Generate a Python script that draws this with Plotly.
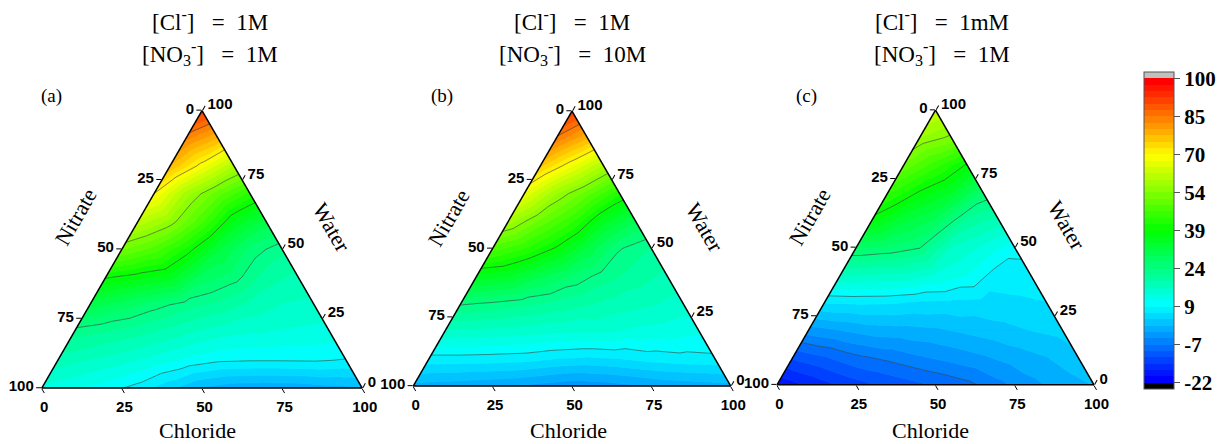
import plotly.graph_objects as go

# ---------------- data ----------------
# Node values on a ternary grid: row i -> Water = water_pct[i] %,
# entry j -> Chloride = j*10 %, Nitrate = 100 - Water - Chloride.
water_pct = [0, 10, 20, 30, 40, 50, 60, 70, 80, 90, 100]
chloride_step = 10

panel_a = [
    [13, 11.5, 9.7, 7.5, 4, 0.5, -0.8, -1, -0.8, 0, 0.5],
    [17.5, 16, 14.5, 12.5, 10.5, 9, 8.7, 8.7, 8.8, 8.3],
    [22.4, 21, 19.5, 17.5, 15.5, 14, 13.5, 13, 12.5],
    [30.2, 27.8, 25, 22.5, 20.5, 18, 16, 15.5],
    [39.5, 37.5, 35.4, 28, 25, 20, 18],
    [52, 48, 41, 32, 25.5, 22],
    [61, 56, 47, 36, 30.5],
    [69.5, 58, 50, 43],
    [77, 68, 59],
    [83, 77],
    [92],
]
panel_b = [
    [0, -0.5, -1, -1.5, -2.5, -3.5, -3, -2, -1, -0.5, 0],
    [7.5, 7.5, 7.3, 7, 6, 5.5, 6, 7, 7.5, 7.8],
    [15.7, 15.5, 15, 14.5, 14, 14, 13, 12.5, 11.6],
    [24.2, 23.3, 22, 20.5, 19, 17.5, 16.5, 15],
    [35.6, 34.2, 29.7, 26, 22.5, 20, 18],
    [47.8, 44, 38.5, 31, 24, 21],
    [58.2, 51, 44.6, 35, 29.3],
    [66.5, 57, 50, 42],
    [75, 67, 58.7],
    [84, 77],
    [92],
]
panel_c = [
    [-19, -16.5, -14, -12, -10.5, -9, -7.5, -5, -2.5, -0.5, 1],
    [-11.4, -9.5, -7.3, -6, -4.5, -3.3, -2, -0.5, 0.8, 2.6],
    [-2.8, -1.6, -0.3, 0, 0.5, 1.5, 2.5, 3.5, 4.3],
    [6.1, 6.4, 6.3, 5.6, 5.4, 5.2, 5.5, 5.9],
    [16.2, 16, 15.4, 13.3, 11, 7, 7.2],
    [26.9, 25.9, 24, 16, 13, 9.5],
    [37.7, 32.2, 28.5, 20.7, 17.4],
    [44.6, 38.5, 34, 26],
    [51, 45, 38.5],
    [56.7, 53.5],
    [62],
]
panels = [panel_a, panel_b, panel_c]

SP = "\u00a0"
title_line1 = ["[Cl<sup>-</sup>]" + SP * 3 + "=" + SP * 2 + "1M",
               "[Cl<sup>-</sup>]" + SP * 3 + "=" + SP * 2 + "1M",
               "[Cl<sup>-</sup>]" + SP * 3 + "=" + SP * 2 + "1mM"]
title_line2 = ["[NO<sub>3</sub><sup>-</sup>]" + SP * 3 + "=" + SP * 2 + "1M",
               "[NO<sub>3</sub><sup>-</sup>]" + SP * 3 + "=" + SP * 2 + "10M",
               "[NO<sub>3</sub><sup>-</sup>]" + SP * 3 + "=" + SP * 2 + "1M"]
panel_tags = ["(a)", "(b)", "(c)"]
bottom_name, left_name, right_name = "Chloride", "Nitrate", "Water"

axis_tick_pos = [0, 25, 50, 75, 100]

level_min, level_max, n_bands = -22.0, 100.0, 48
cbar_labels = ["-22", "-7", "9", "24", "39", "54", "70", "85", "100"]

# ---------------- layout helpers ----------------
W, H = 1227, 444


def px(x):
    return x / W


def py(y):
    return 1 - y / H


# triangle bounding boxes (px): left, right, top, bottom
tri_boxes = [(41, 363, 110.5, 388), (413, 731, 111, 386), (777, 1094, 110, 385)]
title_x = [210, 572, 942]
tag_pos = [(51, 96), (442, 96), (806, 96)]
nitrate_pos = [(75, 217), (448, 218), (809, 217)]
water_pos = [(332, 227), (705, 227), (1067, 225)]
chloride_x = [197, 568, 930]

# ---------------- colours ----------------
stops = [(0.0, (0, 0, 255)), (0.25, (0, 255, 255)), (0.5, (0, 255, 0)),
         (0.75, (255, 255, 0)), (1.0, (255, 0, 0))]


def rainbow(t):
    for k in range(len(stops) - 1):
        t0, c0 = stops[k]
        t1, c1 = stops[k + 1]
        if t <= t1 + 1e-12:
            f = (t - t0) / (t1 - t0)
            r, g, b = [round(c0[m] + f * (c1[m] - c0[m])) for m in range(3)]
            return "rgb(%d,%d,%d)" % (r, g, b)
    return "rgb(255,0,0)"


step = (level_max - level_min) / n_bands
edges = [level_min + k * step for k in range(n_bands + 1)]
band_colors = [rainbow(k / (n_bands - 1)) for k in range(n_bands)]
under_color, over_color = "rgb(0,0,0)", "rgb(192,192,192)"
bands = [(None, edges[0], under_color)]
bands += [(edges[k], edges[k + 1], band_colors[k]) for k in range(n_bands)]
bands += [(edges[-1], None, over_color)]
contour_levels = [edges[k] for k in range(6, n_bands, 6)]

# ---------------- geometry from the grid ----------------


def grid_triangles(panel):
    node = {}
    for i, row in enumerate(panel):
        for j, v in enumerate(row):
            node[(i, j)] = (water_pct[i], j * chloride_step, v)
    n = len(panel) - 1
    tris = []
    for i in range(n):
        for j in range(n - i):
            tris.append([node[(i, j)], node[(i, j + 1)], node[(i + 1, j)]])
            if j < n - i - 1:
                tris.append([node[(i, j + 1)], node[(i + 1, j + 1)], node[(i + 1, j)]])
    return tris


def clip_poly(pts, level, above):
    out = []
    n = len(pts)
    for k in range(n):
        p, q = pts[k], pts[(k + 1) % n]
        pin = p[2] >= level if above else p[2] <= level
        qin = q[2] >= level if above else q[2] <= level
        if pin:
            out.append(p)
        if pin != qin:
            t = (level - p[2]) / (q[2] - p[2])
            out.append((p[0] + t * (q[0] - p[0]), p[1] + t * (q[1] - p[1]), level))
    return out


def area(poly):
    s = 0.0
    for k in range(len(poly)):
        x0, y0 = poly[k][0], poly[k][1]
        x1, y1 = poly[(k + 1) % len(poly)][0], poly[(k + 1) % len(poly)][1]
        s += x0 * y1 - x1 * y0
    return abs(s) / 2


fig = go.Figure()
subplots = ["ternary", "ternary2", "ternary3"]

for p_idx, panel in enumerate(panels):
    tris = grid_triangles(panel)
    sp = subplots[p_idx]
    for lo, hi, col in bands:
        A, B, C = [], [], []
        for tri in tris:
            vs = [t[2] for t in tri]
            if lo is not None and max(vs) < lo:
                continue
            if hi is not None and min(vs) > hi:
                continue
            poly = tri
            if lo is not None:
                poly = clip_poly(poly, lo, True)
            if hi is not None and len(poly) >= 3:
                poly = clip_poly(poly, hi, False)
            if len(poly) < 3 or area(poly) < 1e-6:
                continue
            for (a, c, _) in poly + [poly[0]]:
                A.append(a)
                C.append(c)
                B.append(100 - a - c)
            A.append(None)
            B.append(None)
            C.append(None)
        if A:
            fig.add_trace(go.Scatterternary(
                a=A, b=B, c=C, mode="lines", fill="toself", fillcolor=col,
                line=dict(color=col, width=0.8), subplot=sp,
                hoverinfo="skip", showlegend=False))
    # contour lines
    A, B, C = [], [], []
    for tri in tris:
        for L in contour_levels:
            Le = L + 1e-7
            seg = []
            for k in range(3):
                p, q = tri[k], tri[(k + 1) % 3]
                if (p[2] - Le) * (q[2] - Le) < 0:
                    t = (Le - p[2]) / (q[2] - p[2])
                    seg.append((p[0] + t * (q[0] - p[0]), p[1] + t * (q[1] - p[1])))
            if len(seg) == 2:
                for (a, c) in seg:
                    A.append(a)
                    C.append(c)
                    B.append(100 - a - c)
                A.append(None)
                B.append(None)
                C.append(None)
    fig.add_trace(go.Scatterternary(
        a=A, b=B, c=C, mode="lines", line=dict(color="rgba(60,60,60,0.85)", width=0.7),
        subplot=sp, hoverinfo="skip", showlegend=False, connectgaps=False))

# colour bar (carried by an invisible marker)
cb_cmin = level_min - step
cb_cmax = level_max + step
cb_cols = [under_color] + band_colors + [over_color]
nseg = len(cb_cols)
colorscale = []
for k, col in enumerate(cb_cols):
    colorscale.append([k / nseg, col])
    colorscale.append([(k + 1) / nseg, col])
cb_tickvals = [level_min + k * (level_max - level_min) / 8 for k in range(9)]

fig.add_trace(go.Scatterternary(
    a=[100], b=[0], c=[0], mode="markers", subplot="ternary3",
    hoverinfo="skip", showlegend=False,
    marker=dict(size=1, opacity=0, color=[level_min], cmin=cb_cmin, cmax=cb_cmax,
                colorscale=colorscale, showscale=True,
                colorbar=dict(x=px(1144), xanchor="left", xpad=0,
                              y=py(230.5), yanchor="middle", ypad=0,
                              len=317, lenmode="pixels", thickness=30,
                              outlinewidth=1, outlinecolor="#555555",
                              tickmode="array", tickvals=cb_tickvals, ticktext=cbar_labels,
                              ticks="outside", ticklen=6, tickcolor="#555555",
                              tickfont=dict(family="Liberation Serif, Times New Roman, serif",
                                            size=21, color="black", weight="bold")))))

# ternary axes
tickfont = dict(family="Liberation Sans, Arial, sans-serif", size=15, color="black", weight="bold")


def tern_axis():
    return dict(tickmode="array", tickvals=axis_tick_pos,
                ticktext=[str(int(100 - v)) for v in axis_tick_pos],
                ticks="outside", ticklen=5, tickwidth=1, tickcolor="black",
                linecolor="black", linewidth=1.5, showgrid=False, showline=True,
                tickfont=tickfont, title=dict(text=""), min=0)


layout_kw = {}
for p_idx, sp in enumerate(subplots):
    l, r, t, b = tri_boxes[p_idx]
    layout_kw[sp] = dict(sum=100, bgcolor="rgba(0,0,0,0)",
                         domain=dict(x=[px(l), px(r)], y=[py(b), py(t)]),
                         aaxis=tern_axis(), baxis=tern_axis(), caxis=tern_axis())

serif = "Liberation Serif, Times New Roman, serif"
annotations = []
for p_idx in range(3):
    annotations.append(dict(text=title_line1[p_idx], x=px(title_x[p_idx]), y=py(21),
                            xref="paper", yref="paper", showarrow=False,
                            xanchor="center", yanchor="middle",
                            font=dict(family=serif, size=23, color="black")))
    annotations.append(dict(text=title_line2[p_idx], x=px(title_x[p_idx]), y=py(54),
                            xref="paper", yref="paper", showarrow=False,
                            xanchor="center", yanchor="middle",
                            font=dict(family=serif, size=23, color="black")))
    tx, ty = tag_pos[p_idx]
    annotations.append(dict(text=panel_tags[p_idx], x=px(tx), y=py(ty), xref="paper", yref="paper",
                            showarrow=False, xanchor="center", yanchor="middle",
                            font=dict(family=serif, size=19, color="black")))
    nx, ny = nitrate_pos[p_idx]
    annotations.append(dict(text=left_name, x=px(nx), y=py(ny), xref="paper", yref="paper",
                            showarrow=False, textangle=-60, xanchor="center", yanchor="middle",
                            font=dict(family=serif, size=22, color="black")))
    wx, wy = water_pos[p_idx]
    annotations.append(dict(text=right_name, x=px(wx), y=py(wy), xref="paper", yref="paper",
                            showarrow=False, textangle=60, xanchor="center", yanchor="middle",
                            font=dict(family=serif, size=22, color="black")))
    annotations.append(dict(text=bottom_name, x=px(chloride_x[p_idx]), y=0, xref="paper",
                            yref="paper", showarrow=False, xanchor="center", yanchor="bottom",
                            borderpad=0, font=dict(family=serif, size=22, color="black")))

fig.update_layout(width=W, height=H, margin=dict(l=0, r=0, t=0, b=0, autoexpand=False),
                  paper_bgcolor="white", plot_bgcolor="white", showlegend=False,
                  annotations=annotations, **layout_kw)

fig.write_html("out.html", config={"displayModeBar": False},
               post_script="document.body.style.margin='0px';"
                           "document.body.style.overflow='hidden';")
